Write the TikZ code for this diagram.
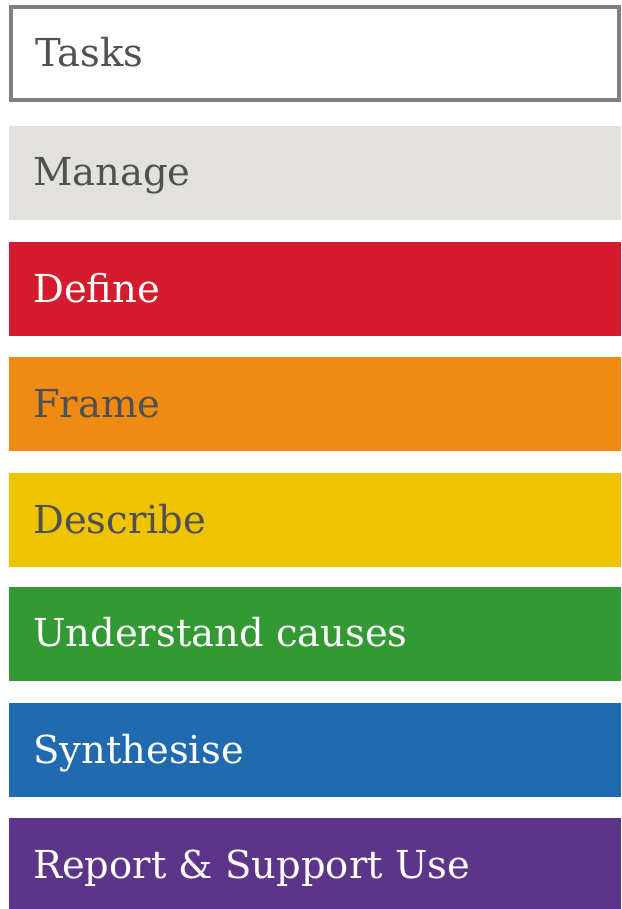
\documentclass[tikz,border=0pt]{standalone}
\usepackage{fontspec}
\setmainfont{DejaVu Serif}
\definecolor{txtgrey}{HTML}{505050}
\definecolor{bordergrey}{HTML}{808080}
\definecolor{cmanage}{HTML}{E2E1DD}
\definecolor{cdefine}{HTML}{D41C2E}
\definecolor{cframe}{HTML}{EF8A12}
\definecolor{cdescribe}{HTML}{EEC300}
\definecolor{cunder}{HTML}{339933}
\definecolor{csynth}{HTML}{206BB0}
\definecolor{creport}{HTML}{5C348A}
\begin{document}
\begin{tikzpicture}[x=1pt,y=-1pt,
  lbl/.style={anchor=base west,inner sep=0pt,font=\fontsize{38.5}{40}\selectfont}]
\useasboundingbox (0,0) rectangle (621,909);
\fill[white] (0,0) rectangle (621,909);
% Tasks box
\draw[bordergrey,line width=4pt,fill=white] (11,7) rectangle (619,100.5);
\node[lbl,text=txtgrey] (tasks) at (35,67) {Tasks};
% bars
\fill[cmanage] (9,126) rectangle (621,220);
\node[lbl,text=txtgrey] (manage) at (33,186) {Manage};
\fill[cdefine] (9,242) rectangle (621,336);
\node[lbl,text=white] (define) at (33,302) {Define};
\fill[cframe] (9,357) rectangle (621,451);
\node[lbl,text=txtgrey] (frame) at (33,417) {Frame};
\fill[cdescribe] (9,473) rectangle (621,567);
\node[lbl,text=txtgrey] (describe) at (33,533) {Describe};
\fill[cunder] (9,587) rectangle (621,681);
\node[lbl,text=white] (under) at (33,646) {Understand causes};
\fill[csynth] (9,703) rectangle (621,797);
\node[lbl,text=white] (synth) at (33,763) {Synthesise};
\fill[creport] (9,818) rectangle (621,909);
\node[lbl,text=white] (report) at (33,878) {Report \& Support Use};
\end{tikzpicture}
\end{document}
